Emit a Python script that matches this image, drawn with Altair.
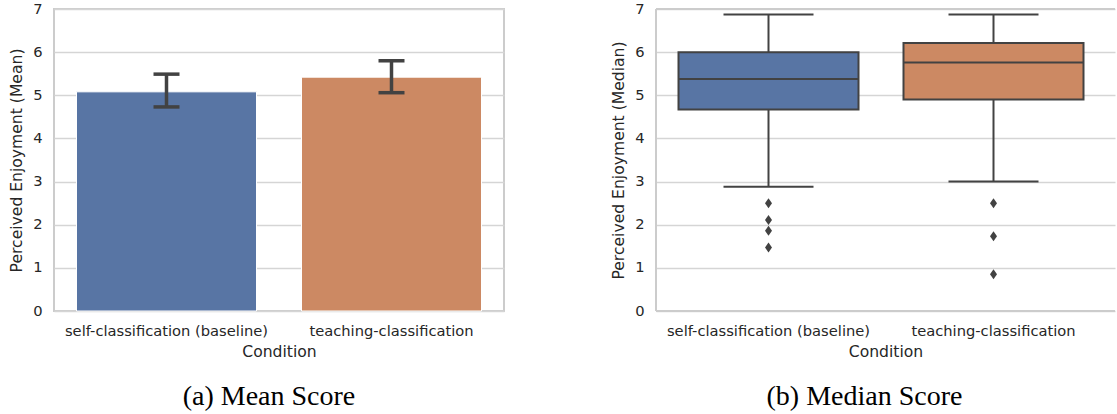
import altair as alt
import pandas as pd

# Study conditions
conditions = ["self-classification (baseline)", "teaching-classification"]

# (a) Mean perceived enjoyment with 95% confidence interval
mean_score = [5.08, 5.42]
ci_low = [4.73, 5.06]
ci_high = [5.49, 5.80]

# (b) Box-plot summary of the median scores
whisker_low = [2.88, 3.00]
q1 = [4.67, 4.90]
median = [5.38, 5.76]
q3 = [6.00, 6.21]
whisker_high = [6.87, 6.87]

# Outlying participants per condition
outlier_condition = [conditions[0]] * 4 + [conditions[1]] * 3
outlier_value = [2.50, 2.11, 1.86, 1.47, 2.50, 1.73, 0.85]

palette = ["#5875a4", "#cc8963"]

SANS = "DejaVu Sans"
SERIF = "Liberation Serif"
TEXT = "#262626"
INK = "#424242"
FRAME = "#cccccc"

H = 302          # plot height shared by both panels
WA, WB = 450, 459

mean_df = pd.DataFrame({"condition": conditions, "mean": mean_score,
                        "low": ci_low, "high": ci_high})
box_df = pd.DataFrame({"condition": conditions, "wlo": whisker_low, "q1": q1,
                       "median": median, "q3": q3, "whi": whisker_high})
out_df = pd.DataFrame({"condition": outlier_condition, "value": outlier_value})

color = alt.Color("condition:N", scale=alt.Scale(domain=conditions, range=palette),
                  legend=None)
y_scale = alt.Scale(domain=[0, 7], nice=False, zero=True)


def y_axis(title):
    return alt.Axis(title=title, values=list(range(8)), ticks=False, domain=False,
                    grid=True, labelPadding=12, titlePadding=8)


def x_enc(padding_outer, align):
    return alt.X("condition:N", sort=conditions, title="Condition",
                 scale=alt.Scale(paddingInner=0.2, paddingOuter=padding_outer,
                                 align=align),
                 axis=alt.Axis(labelAngle=0, ticks=False, domain=False, grid=False,
                               labelPadding=12, titlePadding=7, labelLimit=0))


# ---- (a) bar chart of means with error bars ----
ya = "Perceived Enjoyment (Mean)"
base_a = alt.Chart(mean_df).encode(x=x_enc(0.1, 0.5))
bars = base_a.mark_bar(stroke="white", strokeWidth=1).encode(
    y=alt.Y("mean:Q", scale=y_scale, axis=y_axis(ya)), color=color)
err = base_a.mark_rule(color=INK, strokeWidth=3.5).encode(
    y=alt.Y("low:Q", scale=y_scale, axis=y_axis(ya)), y2="high:Q")
cap_lo = base_a.mark_tick(color=INK, size=26, thickness=3.5, opacity=1).encode(
    y=alt.Y("low:Q", scale=y_scale, axis=y_axis(ya)))
cap_hi = base_a.mark_tick(color=INK, size=26, thickness=3.5, opacity=1).encode(
    y=alt.Y("high:Q", scale=y_scale, axis=y_axis(ya)))

panel_a = alt.layer(bars, err, cap_lo, cap_hi).properties(
    width=WA, height=H,
    view=alt.ViewConfig(stroke=FRAME, strokeWidth=2),
    title=alt.TitleParams("(a) Mean Score", orient="bottom", anchor="middle",
                          frame="group", offset=23, dx=-10))

# ---- (b) box plot of medians ----
yb = "Perceived Enjoyment (Median)"
xb = x_enc(0.12, 0.4167)
base_b = alt.Chart(box_df).encode(x=xb)
whisk = base_b.mark_rule(color=INK, strokeWidth=2).encode(
    y=alt.Y("wlo:Q", scale=y_scale, axis=y_axis(yb)), y2="whi:Q")
box = base_b.mark_bar(stroke=INK, strokeWidth=2).encode(
    y=alt.Y("q1:Q", scale=y_scale, axis=y_axis(yb)), y2="q3:Q", color=color)
med = base_b.mark_tick(color=INK, size=180, thickness=2, opacity=1).encode(
    y=alt.Y("median:Q", scale=y_scale, axis=y_axis(yb)))
cap_wlo = base_b.mark_tick(color=INK, size=90, thickness=2, opacity=1).encode(
    y=alt.Y("wlo:Q", scale=y_scale, axis=y_axis(yb)))
cap_whi = base_b.mark_tick(color=INK, size=90, thickness=2, opacity=1).encode(
    y=alt.Y("whi:Q", scale=y_scale, axis=y_axis(yb)))
fliers = alt.Chart(out_df).mark_point(
    shape="M0,-1L0.7,0L0,1L-0.7,0Z", filled=True, size=100, color=INK, opacity=1
).encode(x=xb, y=alt.Y("value:Q", scale=y_scale, axis=y_axis(yb)))

# open frame on the right-hand panel: left, top and bottom edges only
frame_src = alt.Chart(box_df)
edge_left = frame_src.mark_rule(color=FRAME, strokeWidth=2).encode(
    x=alt.value(0), y=alt.value(0), y2=alt.value(H))
edge_top = frame_src.mark_rule(color=FRAME, strokeWidth=2).encode(
    x=alt.value(0), x2=alt.value(WB), y=alt.value(0))
edge_bottom = frame_src.mark_rule(color=FRAME, strokeWidth=2).encode(
    x=alt.value(0), x2=alt.value(WB), y=alt.value(H))

panel_b = alt.layer(whisk, box, med, cap_wlo, cap_whi, fliers,
                    edge_left, edge_top, edge_bottom).properties(
    width=WB, height=H,
    view=alt.ViewConfig(stroke="transparent", strokeWidth=0),
    title=alt.TitleParams("(b) Median Score", orient="bottom", anchor="middle",
                          frame="group", offset=23, dx=-21))

chart = alt.hconcat(panel_a, panel_b, spacing=106).properties(
    padding={"left": 8, "top": 0, "right": 0, "bottom": 0},
    background="white",
).configure_axis(
    labelFont=SANS, titleFont=SANS, labelColor=TEXT, titleColor=TEXT,
    labelFontSize=14.7, titleFontSize=15.6, titleFontWeight="normal",
    gridColor="#d5d5d5", gridWidth=1.3,
).configure_title(
    font=SERIF, fontSize=28, fontWeight="normal", color="black"
)

chart.save("out.html", embed_options={"renderer": "svg", "actions": False})
